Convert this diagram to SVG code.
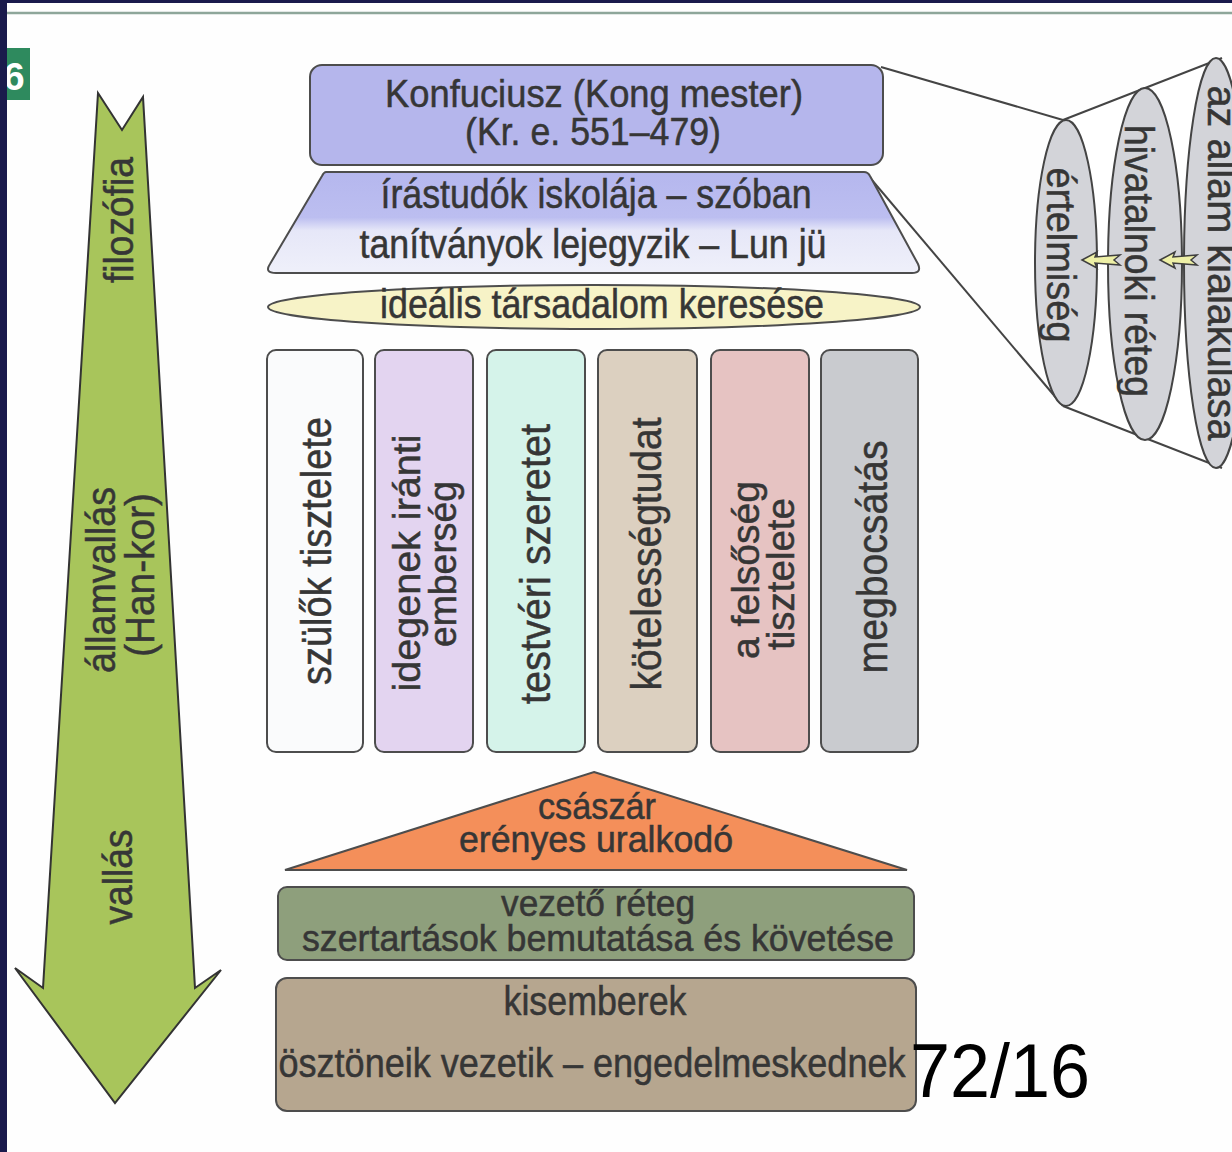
<svg xmlns="http://www.w3.org/2000/svg" width="1232" height="1152" viewBox="0 0 1232 1152">
<defs>
<linearGradient id="trapG" x1="0" y1="172" x2="0" y2="273" gradientUnits="userSpaceOnUse">
<stop offset="0" stop-color="#b5b7ee"/><stop offset="0.45" stop-color="#bcbef0"/><stop offset="0.58" stop-color="#e6e7f8"/><stop offset="1" stop-color="#eff0fa"/>
</linearGradient>
<style>
text{font-family:"Liberation Sans",Arial,sans-serif;fill:#363636;stroke:#363636;stroke-width:0.5;font-size:40px}
.box{stroke:#4d4d4d;stroke-width:2}
.ln{stroke:#444;stroke-width:2;fill:none}
.mid{text-anchor:middle}
.sm{font-size:40px}
.col{font-size:43px}
.col2{font-size:38px}
.tight{font-size:36px}
.el{fill:#d3d4d9;stroke:#444;stroke-width:2}
.sarr{fill:#eef0a6;stroke:#3f3f3f;stroke-width:1.5}
</style>
</defs>
<rect x="0" y="0" width="1232" height="1152" fill="#fefefe"/>
<line x1="7" y1="13" x2="1232" y2="13" stroke="#8ea69a" stroke-width="2.5"/>
<g id="badge">
<rect x="7" y="48" width="23" height="52" fill="#2e8a5e"/>
<text x="14" y="90" class="mid" style="fill:#fff;stroke:none;font-weight:bold;font-size:38px">6</text>
</g>
<rect x="0" y="0" width="7" height="1152" fill="#1a1a4c"/>
<rect x="0" y="0" width="1232" height="3" fill="#1a1a4c"/>

<g id="connectors">
<polygon points="1063,120 1222,58 1222,468 1063,406" fill="#ffffff" stroke="none"/>
<line class="ln" x1="881" y1="67" x2="1063" y2="120"/>
<line class="ln" x1="866" y1="173" x2="1063" y2="406"/>
<line class="ln" x1="1063" y1="120" x2="1222" y2="58"/>
<line class="ln" x1="1063" y1="406" x2="1222" y2="468"/>
</g>

<g id="arrow-left">
<polygon points="98,93 122,130 143,97 195,988 221,970 115,1103 15,968 43,988" fill="#a8c55b" stroke="#333" stroke-width="2" stroke-linejoin="miter"/>
<text class="mid sm" transform="translate(119,220) rotate(-90)" y="14" textLength="126" lengthAdjust="spacingAndGlyphs">filozófia</text>
<text class="mid sm" transform="translate(101,580) rotate(-90)" y="14" textLength="186" lengthAdjust="spacingAndGlyphs">államvallás</text>
<text class="mid sm" transform="translate(140,575) rotate(-90)" y="14" textLength="164" lengthAdjust="spacingAndGlyphs">(Han-kor)</text>
<text class="mid sm" transform="translate(118,877) rotate(-90)" y="14" textLength="95" lengthAdjust="spacingAndGlyphs">vallás</text>
</g>

<g id="konfuciusz">
<rect class="box" x="310" y="65" width="573" height="100" rx="12" fill="#b5b6ec"/>
<text class="mid" x="594" y="107" style="font-size:39px" textLength="418" lengthAdjust="spacingAndGlyphs">Konfuciusz (Kong mester)</text>
<text class="mid" x="593" y="145" style="font-size:39px" textLength="256" lengthAdjust="spacingAndGlyphs">(Kr. e. 551–479)</text>
</g>

<g id="irastudok">
<path class="box" d="M326,172 L864,172 Q868,172 870,176 L918,264 Q922,273 912,273 L276,273 Q264,273 270,264 L322,176 Q324,172 326,172 Z" fill="url(#trapG)"/>
<text class="mid" x="596" y="208" textLength="431" lengthAdjust="spacingAndGlyphs">írástudók iskolája – szóban</text>
<text class="mid" x="593" y="258" textLength="467" lengthAdjust="spacingAndGlyphs">tanítványok lejegyzik – Lun jü</text>
</g>

<g id="idealis">
<ellipse class="box" cx="594" cy="307" rx="326" ry="22" fill="#f7f3c7"/>
<text class="mid" x="602" y="318" textLength="444" lengthAdjust="spacingAndGlyphs">ideális társadalom keresése</text>
</g>

<g id="col1">
<rect class="box" x="267" y="350" width="96" height="402" rx="9" fill="#fafbfc"/>
<text class="mid col" transform="translate(316,551) rotate(-90)" y="15" textLength="268" lengthAdjust="spacingAndGlyphs">szülők tisztelete</text>
</g>
<g id="col2">
<rect class="box" x="375" y="350" width="98" height="402" rx="9" fill="#e3d4f0"/>
<text class="mid col2" transform="translate(407,563) rotate(-90)" y="13" textLength="257" lengthAdjust="spacingAndGlyphs">idegenek iránti</text>
<text class="mid col2" transform="translate(443,564) rotate(-90)" y="13" textLength="166" lengthAdjust="spacingAndGlyphs">emberség</text>
</g>
<g id="col3">
<rect class="box" x="487" y="350" width="98" height="402" rx="9" fill="#d5f3ea"/>
<text class="mid col" transform="translate(535,564) rotate(-90)" y="15" textLength="280" lengthAdjust="spacingAndGlyphs">testvéri szeretet</text>
</g>
<g id="col4">
<rect class="box" x="598" y="350" width="99" height="402" rx="9" fill="#dcd0c0"/>
<text class="mid col" transform="translate(646,554) rotate(-90)" y="15" textLength="273" lengthAdjust="spacingAndGlyphs">kötelességtudat</text>
</g>
<g id="col5">
<rect class="box" x="711" y="350" width="98" height="402" rx="9" fill="#e6c3c2"/>
<text class="mid col2" transform="translate(746,570) rotate(-90)" y="13" textLength="178" lengthAdjust="spacingAndGlyphs">a felsőség</text>
<text class="mid col2" transform="translate(781,574) rotate(-90)" y="13" textLength="152" lengthAdjust="spacingAndGlyphs">tisztelete</text>
</g>
<g id="col6">
<rect class="box" x="821" y="350" width="97" height="402" rx="9" fill="#c9cbcf"/>
<text class="mid col" transform="translate(872,557) rotate(-90)" y="15" textLength="233" lengthAdjust="spacingAndGlyphs">megbocsátás</text>
</g>

<g id="csaszar">
<polygon class="box" points="594,772 907,870 285,870" fill="#f48f5a"/>
<text class="mid tight" x="597" y="819" textLength="118" lengthAdjust="spacingAndGlyphs">császár</text>
<text class="mid tight" x="596" y="852" textLength="274" lengthAdjust="spacingAndGlyphs">erényes uralkodó</text>
</g>

<g id="vezeto">
<rect class="box" x="278" y="887" width="636" height="73" rx="9" fill="#8e9f7c"/>
<text class="mid tight" x="598" y="916" textLength="194" lengthAdjust="spacingAndGlyphs">vezető réteg</text>
<text class="mid tight" x="598" y="951" textLength="592" lengthAdjust="spacingAndGlyphs">szertartások bemutatása és követése</text>
</g>

<g id="kisemberek">
<rect class="box" x="276" y="978" width="640" height="133" rx="11" fill="#b6a68f"/>
<text class="mid" x="595" y="1015" textLength="183" lengthAdjust="spacingAndGlyphs">kisemberek</text>
<text class="mid" x="592" y="1077" textLength="627" lengthAdjust="spacingAndGlyphs">ösztöneik vezetik – engedelmeskednek</text>
</g>

<g id="cone">
<ellipse class="el" cx="1216" cy="263" rx="32" ry="205"/>
<ellipse class="el" cx="1145" cy="264" rx="37" ry="176"/>
<ellipse class="el" cx="1066" cy="263" rx="31" ry="143"/>
<polygon class="sarr" points="1082,260 1097,252 1095,257 1120,255 1114,260 1120,265 1095,263 1097,268"/>
<polygon class="sarr" points="1160,260 1175,252 1173,257 1197,255 1191,260 1197,265 1173,263 1175,268"/>
<text class="sm mid" transform="translate(1061,255) rotate(90)" y="14" textLength="175" lengthAdjust="spacingAndGlyphs">értelmiség</text>
<text class="sm mid" transform="translate(1139,261) rotate(90)" y="14" textLength="272" lengthAdjust="spacingAndGlyphs">hivatalnoki réteg</text>
<text class="sm mid" transform="translate(1222,263) rotate(90)" y="14" textLength="355" lengthAdjust="spacingAndGlyphs">az állam kialakulása</text>
</g>

<g id="pagenum">
<text x="910" y="1097" style="fill:#000;stroke:none;font-size:76px" textLength="180" lengthAdjust="spacingAndGlyphs">72/16</text>
</g>
</svg>
